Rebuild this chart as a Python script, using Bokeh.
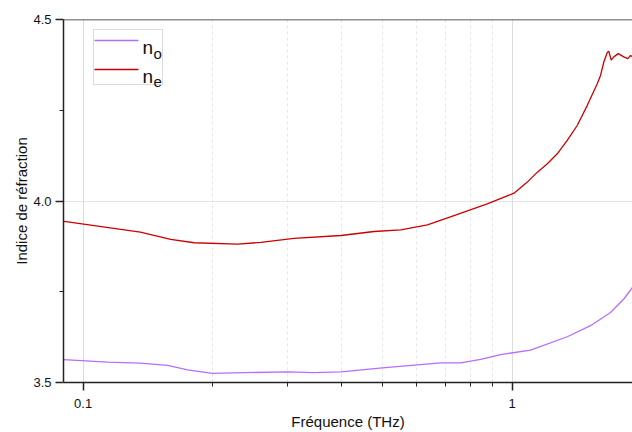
from bokeh.plotting import figure
from bokeh.models import (FixedTicker, Span, Label, BoxAnnotation, Arrow, Range1d)
from bokeh.embed import file_html
from bokeh.resources import INLINE

# ---- data ----
freq_no = [0.090, 0.1141, 0.136, 0.1574, 0.1752, 0.2, 0.2373, 0.2996, 0.3454, 0.399,
           0.4984, 0.601, 0.6815, 0.7586, 0.8446, 0.940, 1.104, 1.344, 1.523, 1.696,
           1.821, 1.908]
n_o = [3.563, 3.556, 3.5535, 3.547, 3.535, 3.525, 3.527, 3.5295, 3.527, 3.5295,
       3.5405, 3.5488, 3.5543, 3.5543, 3.5635, 3.577, 3.589, 3.626, 3.6565, 3.693,
       3.730, 3.762]

freq_ne = [0.090, 0.0912, 0.136, 0.160, 0.1815, 0.229, 0.2597, 0.310, 0.399, 0.4767,
           0.550, 0.6346, 0.732, 0.875, 1.010, 1.085, 1.145, 1.208, 1.274, 1.344, 1.418,
           1.497, 1.579, 1.607, 1.636, 1.666, 1.680, 1.702, 1.726, 1.767, 1.821, 1.861,
           1.888, 1.908]
n_e = [3.944, 3.943, 3.914, 3.894, 3.885, 3.881, 3.886, 3.897, 3.905, 3.916,
       3.9205, 3.934, 3.960, 3.992, 4.0215, 4.052, 4.0795, 4.1026, 4.130, 4.167, 4.208,
       4.2635, 4.323, 4.346, 4.383, 4.409, 4.4125, 4.388, 4.397, 4.406, 4.397, 4.392,
       4.401, 4.397]

x_major = [0.1, 1.0]
x_major_labels = ["0.1", "1"]
x_minor = [0.2, 0.3, 0.4, 0.5, 0.6, 0.7, 0.8, 0.9]
y_major = [3.5, 4.0, 4.5]
y_major_labels = ["3.5", "4.0", "4.5"]
y_minor = [3.75, 4.25]
x_lo, x_hi = 0.090, 1.908
y_lo, y_hi = 3.5, 4.5

series_labels = ["o", "e"]
PURPLE = "#B46EFF"
RED = "#CC0000"
FONT = "Liberation Sans"

p = figure(width=632, height=432, x_axis_type="log",
           x_range=Range1d(x_lo, x_hi), y_range=Range1d(y_lo, y_hi),
           output_backend="svg", toolbar_location=None,
           min_border_left=63, min_border_right=0, min_border_top=19, min_border_bottom=50)
p.outline_line_color = None
p.background_fill_color = "white"
p.border_fill_color = "white"

p.line(freq_no, n_o, line_color=PURPLE, line_width=1.3)
p.line(freq_ne, n_e, line_color=RED, line_width=1.3)

# top frame line
p.add_layout(Span(location=y_hi, dimension="width", line_color="#222222", line_width=1.5))

# x axis
xt = FixedTicker(ticks=x_major, minor_ticks=x_minor)
p.xaxis.ticker = xt
p.xaxis.major_label_overrides = {v: s for v, s in zip(x_major, x_major_labels)}
p.xaxis.axis_label = "Fréquence (THz)"
# y axis
yt = FixedTicker(ticks=y_major, minor_ticks=y_minor)
p.yaxis.ticker = yt
p.yaxis.major_label_overrides = {v: s for v, s in zip(y_major, y_major_labels)}
p.yaxis.axis_label = "Indice de réfraction"

for ax in (p.xaxis[0], p.yaxis[0]):
    ax.axis_line_color = "#222222"
    ax.axis_line_width = 1.5
    ax.major_tick_line_color = "#222222"
    ax.minor_tick_line_color = "#222222"
    ax.major_tick_line_width = 1.5
    ax.minor_tick_line_width = 1
    ax.major_tick_in = 0
    ax.major_tick_out = 8
    ax.minor_tick_in = 0
    ax.minor_tick_out = 4
    ax.major_label_text_font = FONT
    ax.major_label_text_font_size = "13px"
    ax.major_label_text_color = "#111111"
    ax.axis_label_text_font = FONT
    ax.axis_label_text_font_size = "15px"
    ax.axis_label_text_font_style = "normal"
    ax.axis_label_text_color = "#111111"

p.xaxis.major_label_standoff = 8
p.xaxis.axis_label_standoff = 2
p.yaxis.major_label_standoff = 4
p.yaxis.axis_label_standoff = 0

# grids
p.xgrid.ticker = xt
p.xgrid.grid_line_color = "#dddddd"
p.xgrid.grid_line_width = 1
p.xgrid.minor_grid_line_color = "#e6e6e6"
p.xgrid.minor_grid_line_dash = "3 3"
p.ygrid.ticker = yt
p.ygrid.grid_line_color = "#e4e4e4"

# custom legend (canvas pixel units)
p.add_layout(BoxAnnotation(left=93, right=162, top=29, bottom=84,
                           left_units="canvas", right_units="canvas",
                           top_units="canvas", bottom_units="canvas",
                           fill_color="white", fill_alpha=1.0,
                           line_color="#888888", line_width=1))
for yy, col in ((40, PURPLE), (69, RED)):
    p.add_layout(Arrow(end=None, x_start=94, y_start=yy, x_end=138, y_end=yy,
                       start_units="canvas", end_units="canvas",
                       line_color=col, line_width=1.3))
for (yb, sub) in ((46.5, series_labels[0]), (75.5, series_labels[1])):
    p.add_layout(Label(x=142, y=yb, x_units="canvas", y_units="canvas", text="n",
                       text_font=FONT, text_font_size="19px", text_baseline="alphabetic",
                       text_color="#111111"))
    p.add_layout(Label(x=153, y=yb + 6, x_units="canvas", y_units="canvas", text=sub,
                       text_font=FONT, text_font_size="15px", text_baseline="alphabetic",
                       text_color="#111111"))

open("out.html", "w").write(file_html(p, INLINE))
